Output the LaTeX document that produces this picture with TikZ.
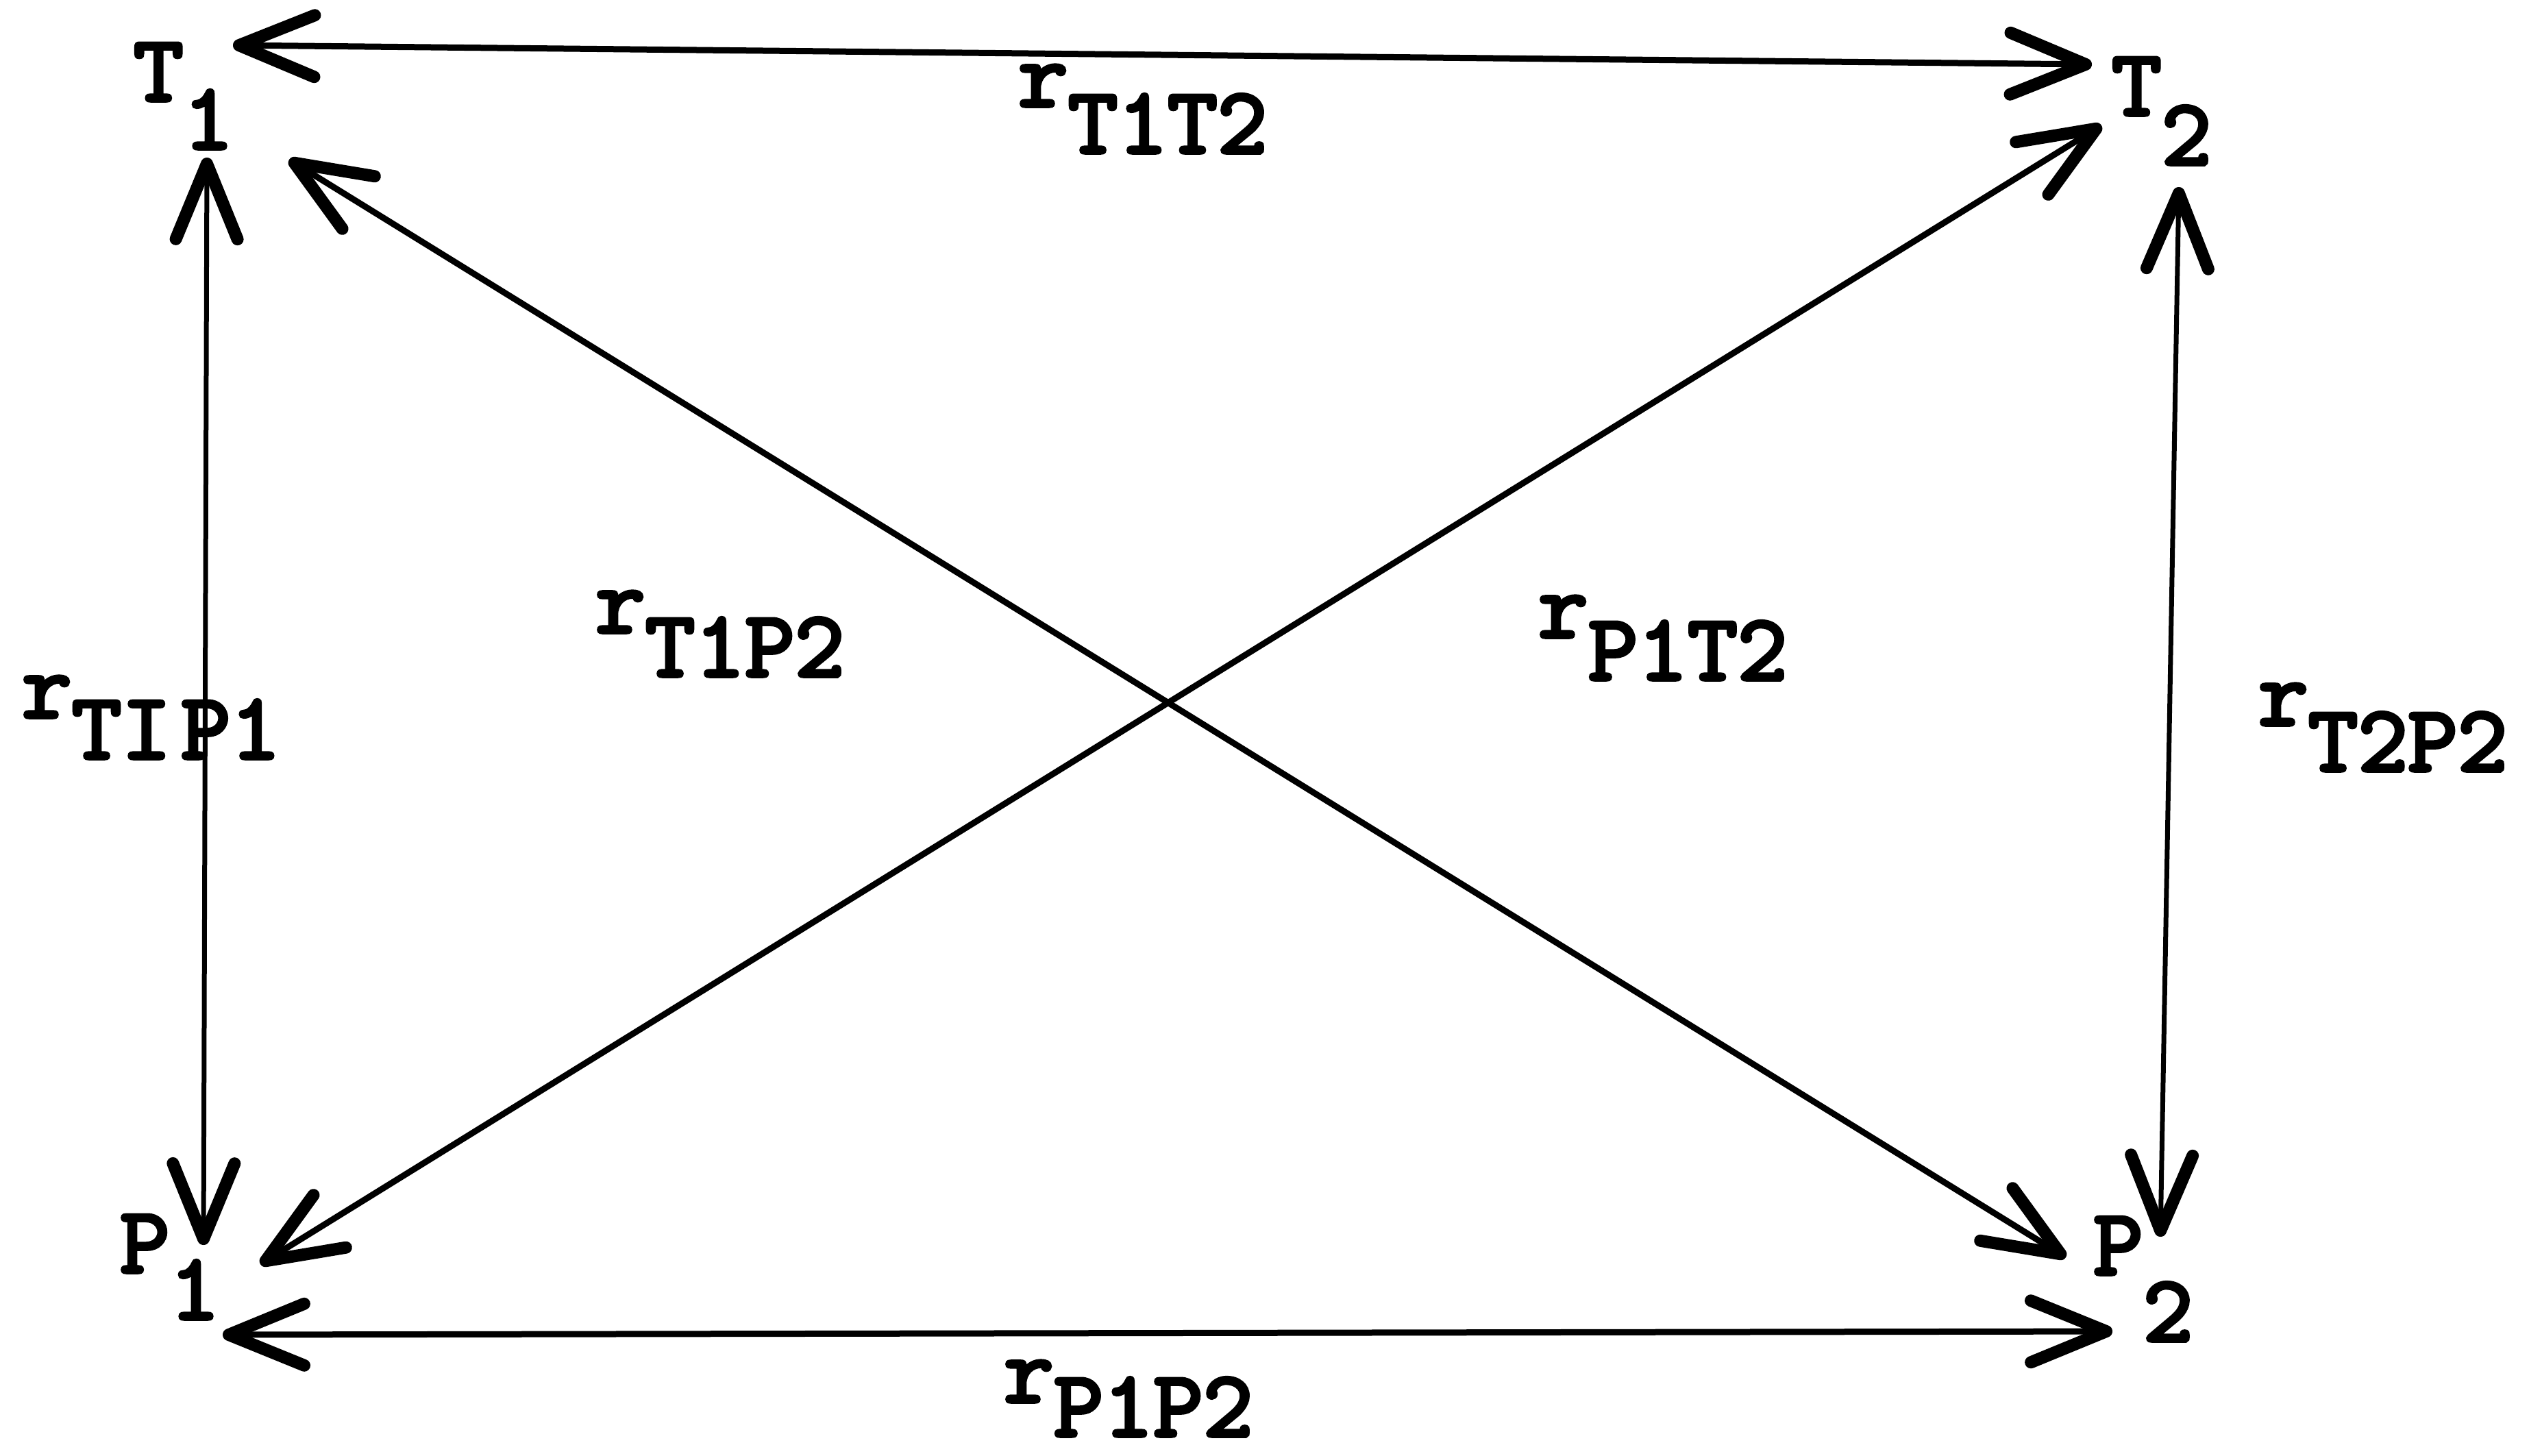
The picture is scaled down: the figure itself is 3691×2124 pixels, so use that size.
\documentclass[tikz,border=0pt]{standalone}
\usepackage{fontspec}
\newfontfamily\tw[FakeBold=4,FakeStretch=1.03]{Latin Modern Mono}
\usetikzlibrary{arrows.meta}
\tikzset{
  conn/.style={line width=0.9mm, line cap=round,
    {Straight Barb[length=11mm,width=9mm,line width=1.8mm,round]}-{Straight Barb[length=11mm,width=9mm,line width=1.8mm,round]}},
  thinconn/.style={conn, line width=0.7mm},
  lbl/.style={anchor=base west, inner sep=0pt, outer sep=0pt, font=\tw\fontsize{39pt}{44pt}\selectfont}
}
\newcommand{\lsub}[3]{#1\raisebox{-#3mm}[0pt][0pt]{#2}}
\begin{document}
\begin{tikzpicture}[x=0.1mm,y=-0.1mm]
\useasboundingbox[fill=white] (0,0) rectangle (3691,2124);
% vertex labels
\node[lbl] (T1) at (195,147) {\lsub{T}{1}{7.0}};
\node[lbl] (T2) at (3082,168) {\lsub{T}{2}{7.2}};
\node[lbl] (P1) at (175,1857) {\lsub{P}{1}{6.8}};
\node[lbl] (P2) at (3055,1860) {\lsub{P}{2}{9.7}};
% edge labels
\node[lbl] (rT1T2) at (1486,155) {\lsub{r}{T1T2}{6.8}};
\node[lbl] (rT1P2) at (869,923) {\lsub{r}{T1P2}{6.4}};
\node[lbl] (rP1T2) at (2245,930) {\lsub{r}{P1T2}{6.2}};
\node[lbl] (rTIP1) at (32,1047) {\lsub{r}{TI\kern0.1em P1}{6.0}};
\node[lbl] (rT2P2) at (3296,1058) {\lsub{r}{T2P2}{6.7}};
\node[lbl] (rP1P2) at (1465,2046) {\lsub{r}{P1P2}{5.0}};
% arrow end points
\coordinate (a1) at (340,66);   \coordinate (a2) at (3053,94);
\coordinate (b1) at (325,1948); \coordinate (b2) at (3083,1943);
\coordinate (c1) at (302,230);  \coordinate (c2) at (297,1817);
\coordinate (d1) at (3180,273); \coordinate (d2) at (3153,1805);
\coordinate (e1) at (422,233);  \coordinate (e2) at (3015,1835);
\coordinate (f1) at (380,1845); \coordinate (f2) at (3067,183);
% connectors
\draw[conn] (a1) -- (a2);
\draw[conn] (b1) -- (b2);
\draw[thinconn] (c1) -- (c2);
\draw[thinconn] (d1) -- (d2);
\draw[conn] (e1) -- (e2);
\draw[conn] (f1) -- (f2);
\end{tikzpicture}
\end{document}
